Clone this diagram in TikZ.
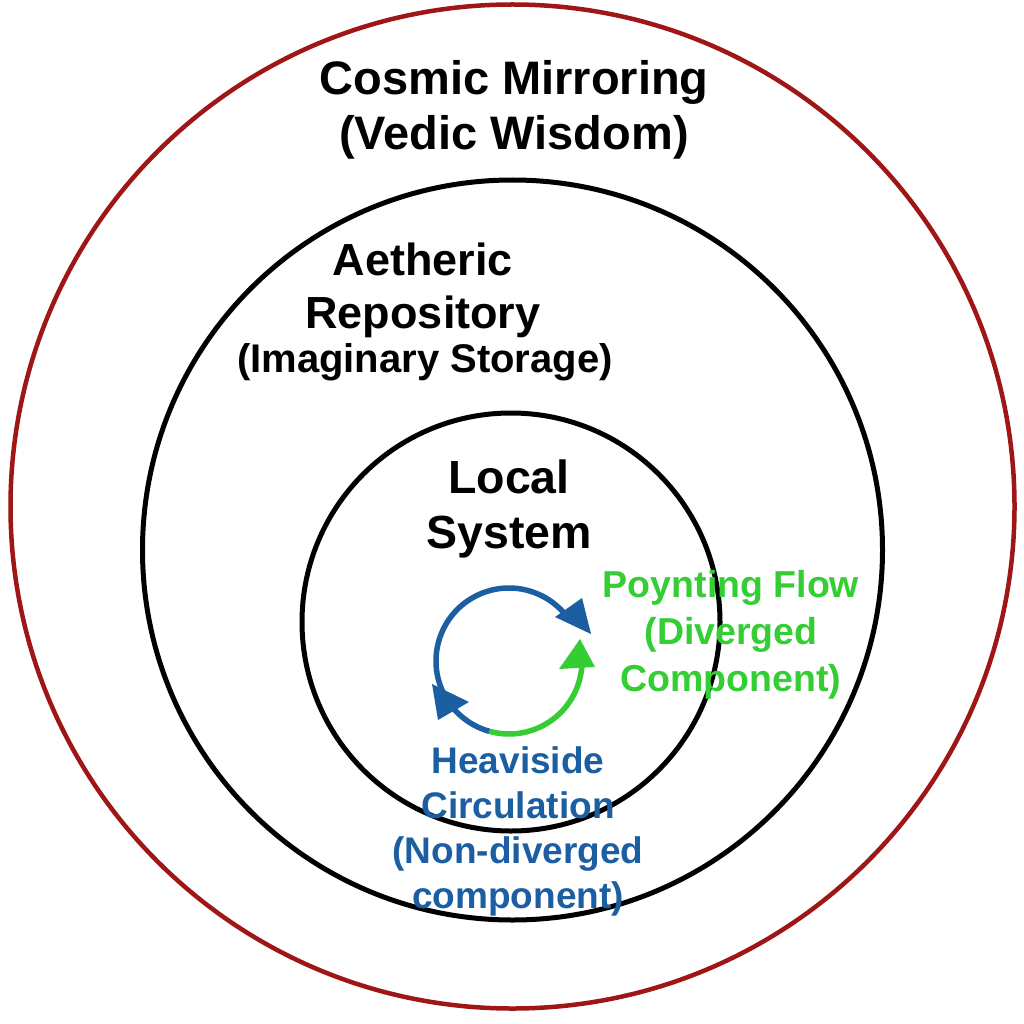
\documentclass[tikz,border=0pt]{standalone}
\usepackage{fontspec}
\setmainfont{Liberation Sans}
\definecolor{ringred}{RGB}{158,22,22}
\definecolor{flowblue}{RGB}{28,94,162}
\definecolor{flowgreen}{RGB}{52,206,52}
\begin{document}
\begin{tikzpicture}[x=1pt,y=-1pt,
  ringline/.style={line width=5pt},
  lbl/.style={inner sep=0pt,anchor=base,align=center,font=\bfseries}]
\useasboundingbox (0,0) rectangle (1024,1024);
\fill[white] (0,0) rectangle (1024,1024);
% rings
\coordinate (cOuter) at (512.5,506.5);
\coordinate (cMid) at (512.5,550);
\coordinate (cIn) at (511,622);
\coordinate (cLoop) at (509,661);
\draw[ringline,line width=4.5pt,ringred] (cOuter) circle[radius=502];
\draw[ringline] (cMid) circle[radius=370];
\draw[ringline] (cIn) circle[radius=209];
% circulation loop
\draw[flowblue,line width=5.5pt] ([shift={(105.6:73)}]cLoop) arc[start angle=105.6,end angle=320,radius=73];
\draw[flowgreen,line width=5.5pt] ([shift={(105.6:73)}]cLoop) arc[start angle=105.6,end angle=4,radius=73];
\fill[flowblue] (555,617) -- (582,598) -- (591,634) -- cycle;
\fill[flowblue] (432,684) -- (438,720) -- (469,702) -- cycle;
\fill[flowgreen] (559,669) -- (580,639) -- (595,667) -- cycle;
% labels (base anchor = baseline of the last line)
\node[lbl,font=\bfseries\fontsize{47}{55}\selectfont] (cosmic) at (514,150) {Cosmic Mirroring\\(Vedic Wisdom)};
\node[lbl,font=\bfseries\fontsize{45}{53}\selectfont] (aetheric) at (423,328) {Aetheric\\Repository};
\node[lbl,font=\bfseries\fontsize{40}{44}\selectfont] (imaginary) at (425,372) {(Imaginary Storage)};
\node[lbl,font=\bfseries\fontsize{46.5}{55}\selectfont] (local) at (509,548) {Local\\System};
\node[lbl,text=flowgreen,font=\bfseries\fontsize{37.5}{47}\selectfont] (poynting) at (731,691) {Poynting Flow\\(Diverged\\Component)};
\node[lbl,text=flowblue,font=\bfseries\fontsize{37}{45}\selectfont] (heaviside) at (518,908) {Heaviside\\Circulation\\(Non-diverged\\component)};
\end{tikzpicture}
\end{document}
